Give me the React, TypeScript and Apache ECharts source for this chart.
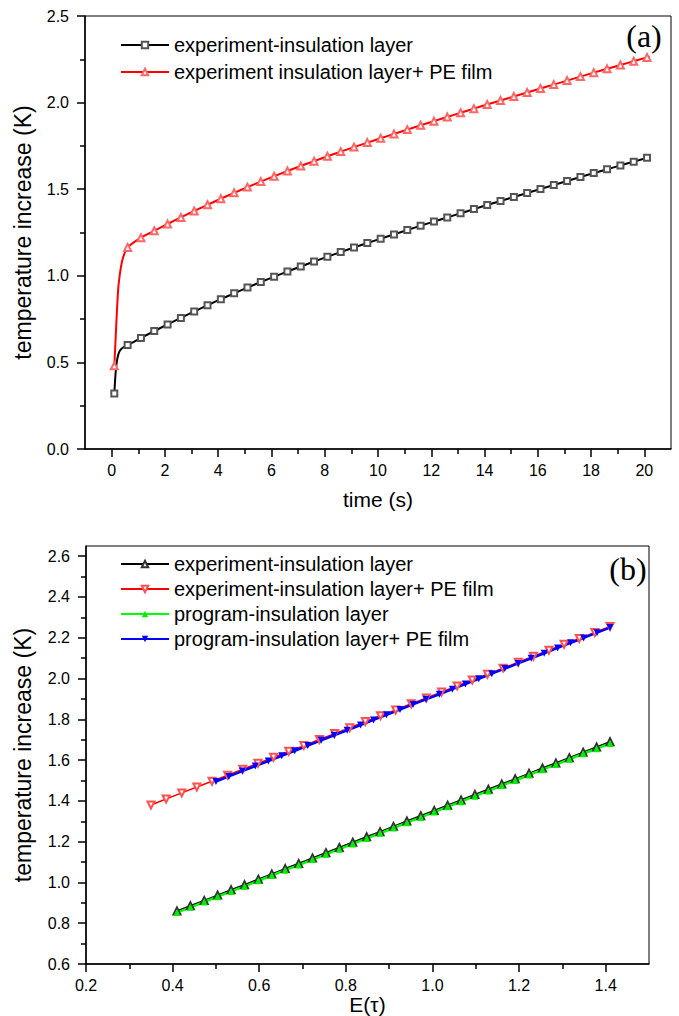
import React, { useEffect, useRef } from "react";
import * as echarts from "echarts";

// ---------- chart (a) data ----------
const aTime = [
  0.1, 0.15, 0.2, 0.25, 0.3, 0.35, 0.4, 0.5,
  0.6, 1.1, 1.6, 2.1, 2.6, 3.1, 3.6, 4.1, 4.6, 5.1,
  5.6, 6.1, 6.6, 7.1, 7.6, 8.1, 8.6, 9.1, 9.6, 10.1,
  10.6, 11.1, 11.6, 12.1, 12.6, 13.1, 13.6, 14.1, 14.6, 15.1,
  15.6, 16.1, 16.6, 17.1, 17.6, 18.1, 18.6, 19.1, 19.6, 20.1, 20.2,
];
const aInsulation = [
  0.32, 0.44, 0.51, 0.545, 0.565, 0.575, 0.583, 0.593,
  0.6, 0.641, 0.681, 0.719, 0.757, 0.794, 0.83, 0.865, 0.899, 0.932,
  0.964, 0.995, 1.025, 1.054, 1.082, 1.11, 1.137, 1.163, 1.189, 1.214,
  1.239, 1.264, 1.289, 1.313, 1.337, 1.361, 1.385, 1.409, 1.432, 1.455,
  1.478, 1.501, 1.524, 1.547, 1.57, 1.593, 1.615, 1.637, 1.659, 1.681, 1.686,
];
const aInsulationPE = [
  0.48, 0.64, 0.8, 0.93, 1.0, 1.05, 1.09, 1.135,
  1.164, 1.22, 1.26, 1.299, 1.337, 1.374, 1.41, 1.445, 1.479, 1.512,
  1.544, 1.575, 1.605, 1.634, 1.662, 1.69, 1.717, 1.743, 1.769, 1.794,
  1.819, 1.844, 1.869, 1.893, 1.917, 1.941, 1.965, 1.989, 2.012, 2.035,
  2.058, 2.081, 2.104, 2.127, 2.15, 2.173, 2.195, 2.217, 2.239, 2.261, 2.265,
];
const aXTicks = [0, 2, 4, 6, 8, 10, 12, 14, 16, 18, 20];
const aXMinorTicks = [1, 3, 5, 7, 9, 11, 13, 15, 17, 19];
const aYTicks = [0, 0.5, 1.0, 1.5, 2.0, 2.5];
const aYMinorTicks = [0.25, 0.75, 1.25, 1.75, 2.25];

// ---------- chart (b) data ----------
const bExpE = [
  0.41, 0.441, 0.473, 0.504, 0.535, 0.566, 0.598, 0.629, 0.66, 0.691, 0.723,
  0.754, 0.785, 0.816, 0.848, 0.879, 0.91, 0.941, 0.973, 1.004, 1.035, 1.066,
  1.098, 1.129, 1.16, 1.191, 1.223, 1.254, 1.285, 1.316, 1.348, 1.379, 1.41,
];
const bExpInsulation = [
  0.86, 0.886, 0.912, 0.938, 0.964, 0.989, 1.016, 1.042, 1.068, 1.093, 1.12,
  1.146, 1.171, 1.197, 1.224, 1.249, 1.275, 1.301, 1.327, 1.353, 1.379, 1.404,
  1.431, 1.457, 1.483, 1.508, 1.535, 1.561, 1.586, 1.612, 1.639, 1.664, 1.69,
];
const bProgInsulation = [
  0.852, 0.878, 0.904, 0.93, 0.956, 0.981, 1.008, 1.034, 1.06, 1.085, 1.112,
  1.138, 1.163, 1.189, 1.216, 1.241, 1.267, 1.293, 1.319, 1.345, 1.371, 1.396,
  1.423, 1.449, 1.475, 1.5, 1.527, 1.553, 1.578, 1.604, 1.631, 1.656, 1.682,
];
const bExpPEE = [
  0.35, 0.385, 0.421, 0.456, 0.491, 0.527, 0.562, 0.597, 0.633, 0.668, 0.703,
  0.739, 0.774, 0.809, 0.845, 0.88, 0.915, 0.951, 0.986, 1.021, 1.057, 1.092,
  1.127, 1.163, 1.198, 1.233, 1.269, 1.304, 1.339, 1.375, 1.41,
];
const bExpPE = [
  1.38, 1.409, 1.439, 1.468, 1.496, 1.526, 1.555, 1.584, 1.614, 1.643, 1.671,
  1.701, 1.73, 1.759, 1.789, 1.818, 1.846, 1.876, 1.905, 1.934, 1.964, 1.993,
  2.021, 2.051, 2.08, 2.109, 2.139, 2.168, 2.196, 2.226, 2.255,
];
const bProgPEE = [
  0.5, 0.53, 0.561, 0.591, 0.621, 0.652, 0.682, 0.712, 0.743, 0.773, 0.803,
  0.834, 0.864, 0.894, 0.925, 0.955, 0.985, 1.016, 1.046, 1.076, 1.107, 1.137,
  1.167, 1.198, 1.228, 1.258, 1.289, 1.319, 1.349, 1.38, 1.41,
];
const bProgPE = [
  1.495, 1.52, 1.546, 1.571, 1.595, 1.621, 1.646, 1.671, 1.697, 1.722, 1.746,
  1.772, 1.797, 1.822, 1.848, 1.873, 1.898, 1.923, 1.948, 1.973, 1.999, 2.024,
  2.049, 2.074, 2.099, 2.124, 2.15, 2.175, 2.199, 2.225, 2.25,
];
const bXTicks = [0.2, 0.4, 0.6, 0.8, 1.0, 1.2, 1.4];
const bXMinorTicks = [0.3, 0.5, 0.7, 0.9, 1.1, 1.3];
const bYTicks = [0.6, 0.8, 1.0, 1.2, 1.4, 1.6, 1.8, 2.0, 2.2, 2.4, 2.6];
const bYMinorTicks = [0.7, 0.9, 1.1, 1.3, 1.5, 1.7, 1.9, 2.1, 2.3, 2.5];

const SANS = "Liberation Sans";
const SERIF = "Liberation Serif";

const GRID_A = { left: 85, top: 16, width: 586, height: 433 };
const GRID_B = { left: 86, top: 546, width: 563, height: 418 };

function pairs(xs: number[], ys: number[]) {
  return xs.map((x, i) => [x, ys[i]]);
}

function markedA(ys: number[]) {
  return aTime.map((t, i) => {
    const k = (t - 0.1) / 0.5;
    const isMarker = Math.abs(k - Math.round(k)) < 1e-6;
    return isMarker ? { value: [t, ys[i]] } : { value: [t, ys[i]], symbol: "none" };
  });
}

function mainX(gridIndex: number, min: number, max: number, ticks: number[], name: string, nameGap: number, fmt: (v: number) => string) {
  return {
    type: "value",
    gridIndex,
    min,
    max,
    position: "bottom",
    name,
    nameLocation: "middle",
    nameGap,
    nameTextStyle: { fontSize: 21, color: "#000", fontFamily: SANS },
    axisLine: { show: true, onZero: false, lineStyle: { color: "#000", width: 1.5 } },
    axisTick: { show: true, customValues: ticks, length: 8, lineStyle: { color: "#000", width: 1.5 } },
    axisLabel: { show: true, customValues: ticks, formatter: fmt, fontSize: 16, color: "#000", fontFamily: SANS, margin: 13 },
    splitLine: { show: false },
  };
}

function minorX(gridIndex: number, min: number, max: number, ticks: number[]) {
  return {
    type: "value",
    gridIndex,
    min,
    max,
    position: "bottom",
    axisLine: { show: false, onZero: false },
    axisTick: { show: true, customValues: ticks, length: 5, lineStyle: { color: "#000", width: 1.5 } },
    axisLabel: { show: false },
    splitLine: { show: false },
  };
}

function mainY(gridIndex: number, min: number, max: number, ticks: number[], nameGap: number) {
  return {
    type: "value",
    gridIndex,
    min,
    max,
    position: "left",
    name: "temperature increase (K)",
    nameLocation: "middle",
    nameGap,
    nameTextStyle: { fontSize: 23, color: "#000", fontFamily: SANS },
    axisLine: { show: true, onZero: false, lineStyle: { color: "#000", width: 1.5 } },
    axisTick: { show: true, customValues: ticks, length: 8, lineStyle: { color: "#000", width: 1.5 } },
    axisLabel: { show: true, customValues: ticks, formatter: (v: number) => v.toFixed(1), fontSize: 16, color: "#000", fontFamily: SANS, margin: 16 },
    splitLine: { show: false },
  };
}

function minorY(gridIndex: number, min: number, max: number, ticks: number[]) {
  return {
    type: "value",
    gridIndex,
    min,
    max,
    position: "left",
    axisLine: { show: false, onZero: false },
    axisTick: { show: true, customValues: ticks, length: 5, lineStyle: { color: "#000", width: 1.5 } },
    axisLabel: { show: false },
    splitLine: { show: false },
  };
}

export default function App() {
  const ref = useRef<HTMLDivElement>(null);

  useEffect(() => {
    if (!ref.current) return;
    const chart = echarts.init(ref.current, undefined, { renderer: "svg" });

    const option = {
      animation: false,
      backgroundColor: "#fff",
      grid: [
        { ...GRID_A, show: true, borderColor: "#000", borderWidth: 1, backgroundColor: "transparent" },
        { ...GRID_B, show: true, borderColor: "#000", borderWidth: 1, backgroundColor: "transparent" },
        { ...GRID_A, show: false },
        { ...GRID_B, show: false },
      ],
      xAxis: [
        mainX(0, -1, 21, aXTicks, "time (s)", 40, (v: number) => String(v)),
        minorX(2, -1, 21, aXMinorTicks),
        mainX(1, 0.2, 1.5, bXTicks, "E(τ)", 30, (v: number) => v.toFixed(1)),
        minorX(3, 0.2, 1.5, bXMinorTicks),
      ],
      yAxis: [
        mainY(0, 0, 2.5, aYTicks, 51),
        minorY(2, 0, 2.5, aYMinorTicks),
        mainY(1, 0.6, 2.65, bYTicks, 52),
        minorY(3, 0.6, 2.65, bYMinorTicks),
      ],
      legend: [
        {
          orient: "vertical",
          left: 115,
          top: 30,
          itemWidth: 48,
          itemHeight: 8,
          itemGap: 7,
          selectedMode: false,
          textStyle: { fontSize: 20, color: "#000", fontFamily: SANS },
          data: ["experiment-insulation layer", "experiment insulation layer+ PE film"],
        },
        {
          orient: "vertical",
          left: 115,
          top: 549,
          itemWidth: 48,
          itemHeight: 8,
          itemGap: 5,
          selectedMode: false,
          textStyle: { fontSize: 20, color: "#000", fontFamily: SANS },
          formatter: (n: string) => n.slice(2),
          data: [
            "b:experiment-insulation layer",
            "b:experiment-insulation layer+ PE film",
            "b:program-insulation layer",
            "b:program-insulation layer+ PE film",
          ],
        },
      ],
      graphic: [
        { type: "text", x: 644, y: 36, style: { text: "(a)", font: `32px "${SERIF}"`, fill: "#000", textAlign: "center", textVerticalAlign: "middle" } },
        { type: "text", x: 628, y: 569, style: { text: "(b)", font: `32px "${SERIF}"`, fill: "#000", textAlign: "center", textVerticalAlign: "middle" } },
      ],
      series: [
        {
          name: "experiment-insulation layer",
          type: "line",
          xAxisIndex: 0,
          yAxisIndex: 0,
          smooth: 0.2,
          data: markedA(aInsulation),
          symbol: "emptyRect",
          symbolSize: 6,
          lineStyle: { color: "#000", width: 2 },
          itemStyle: { color: "#555", borderWidth: 1 },
        },
        {
          name: "experiment insulation layer+ PE film",
          type: "line",
          xAxisIndex: 0,
          yAxisIndex: 0,
          smooth: 0.2,
          data: markedA(aInsulationPE),
          symbol: "emptyTriangle",
          symbolSize: 7,
          lineStyle: { color: "#ff0000", width: 2 },
          itemStyle: { color: "#ff6666", borderWidth: 1 },
        },
        {
          name: "b:experiment-insulation layer",
          type: "line",
          xAxisIndex: 2,
          yAxisIndex: 2,
          data: pairs(bExpE, bExpInsulation),
          symbol: "emptyTriangle",
          symbolSize: 7,
          lineStyle: { color: "#000", width: 1.5 },
          itemStyle: { color: "#333", borderWidth: 0.8 },
        },
        {
          name: "b:experiment-insulation layer+ PE film",
          type: "line",
          xAxisIndex: 2,
          yAxisIndex: 2,
          data: pairs(bExpPEE, bExpPE),
          symbol: "emptyTriangle",
          symbolRotate: 180,
          symbolSize: 7,
          lineStyle: { color: "#ff0000", width: 1.5 },
          itemStyle: { color: "#ff5050", borderWidth: 0.8 },
        },
        {
          name: "b:program-insulation layer",
          type: "line",
          xAxisIndex: 2,
          yAxisIndex: 2,
          data: pairs(bExpE, bProgInsulation),
          symbol: "triangle",
          symbolSize: 7,
          lineStyle: { color: "#00ff00", width: 2.5 },
          itemStyle: { color: "#00ee00" },
        },
        {
          name: "b:program-insulation layer+ PE film",
          type: "line",
          xAxisIndex: 2,
          yAxisIndex: 2,
          data: pairs(bProgPEE, bProgPE),
          symbol: "triangle",
          symbolRotate: 180,
          symbolSize: 7,
          lineStyle: { color: "#0000ff", width: 2.5 },
          itemStyle: { color: "#0000ff" },
        },
      ],
    };

    chart.setOption(option as any);
    return () => chart.dispose();
  }, []);

  return (
    <div
      ref={ref}
      style={{ position: "fixed", left: 0, top: 0, width: 679, height: 1016, background: "#fff" }}
    />
  );
}
